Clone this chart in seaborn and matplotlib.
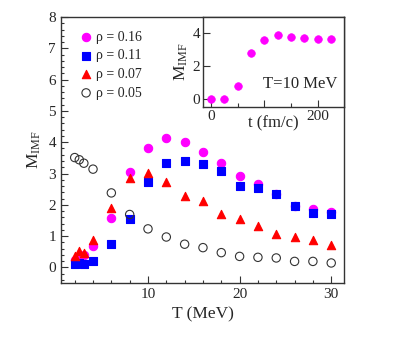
import numpy as np
import pandas as pd
import matplotlib
matplotlib.use("Agg")
import matplotlib.pyplot as plt
import seaborn as sns
from matplotlib.ticker import MultipleLocator

# data
T = [2, 2.5, 3, 4, 6, 8, 10, 12, 14, 16, 18, 20, 22, 24, 26, 28, 30]
m_016 = [0.25, 0.34, 0.40, 0.68, 1.58, 3.05, 3.81, 4.13, 4.00, 3.68, 3.35, 2.91, 2.66, 2.33, 1.97, 1.87, 1.76]
m_011 = [0.10, 0.13, 0.10, 0.20, 0.74, 1.55, 2.72, 3.35, 3.41, 3.31, 3.07, 2.61, 2.54, 2.35, 1.97, 1.75, 1.71]
m_007 = [0.36, 0.53, 0.47, 0.88, 1.90, 2.86, 3.01, 2.73, 2.29, 2.11, 1.69, 1.53, 1.32, 1.08, 0.96, 0.89, 0.73]
m_005 = [3.51, 3.44, 3.33, 3.14, 2.38, 1.69, 1.23, 0.97, 0.74, 0.63, 0.47, 0.35, 0.32, 0.30, 0.19, 0.19, 0.14]
labels = ["ρ = 0.16", "ρ = 0.11", "ρ = 0.07", "ρ = 0.05"]

t_inset = [0, 25, 50, 75, 100, 125, 150, 175, 200, 225]
m_inset = [0.0, 0.0, 0.80, 2.81, 3.63, 3.90, 3.81, 3.73, 3.65, 3.65]

sns.set_style("ticks")
plt.rcParams['font.family'] = ['Liberation Serif', 'DejaVu Serif']
plt.rcParams['mathtext.fontset'] = 'custom'
plt.rcParams['mathtext.rm'] = 'Liberation Serif'
plt.rcParams['mathtext.it'] = 'Liberation Serif:italic'
plt.rcParams['axes.edgecolor'] = '#333333'
plt.rcParams['axes.linewidth'] = 1.0

fig = plt.figure(figsize=(4.01, 3.43), dpi=100)
ax = fig.add_axes([0.152, 0.175, 0.706, 0.775])

styles = [
    dict(marker='o', color='#ff00ff', edgecolor='#ff00ff'),
    dict(marker='s', color='#0000ff', edgecolor='#0000ff'),
    dict(marker='^', color='#ff0000', edgecolor='#ff0000'),
    dict(marker='o', color='none', edgecolor='#333333'),
]
series = [m_016, m_011, m_007, m_005]
for vals, lab, st in zip(series, labels, styles):
    df = pd.DataFrame({"T": T, "M": vals})
    sns.scatterplot(data=df, x="T", y="M", ax=ax, s=36, linewidth=0.8,
                    marker=st['marker'], facecolor=st['color'],
                    edgecolor=st['edgecolor'], label=lab, zorder=3)

ax.set_xlim(0.5, 31.4)
ax.set_ylim(-0.5, 8)
ax.xaxis.set_major_locator(MultipleLocator(10))
ax.xaxis.set_minor_locator(MultipleLocator(2))
ax.yaxis.set_major_locator(MultipleLocator(1))
ax.yaxis.set_minor_locator(MultipleLocator(0.2))
ax.tick_params(which='major', direction='in', length=5, width=0.8, labelsize=11, color='#333333')
ax.tick_params(which='minor', direction='in', length=2.5, width=0.8, color='#333333')
ax.set_xlabel("T (MeV)", fontsize=12.5)
ax.set_ylabel(r"$\mathregular{M_{IMF}}$", fontsize=12.5, labelpad=4)

leg = ax.legend(loc='upper left', bbox_to_anchor=(0.025, 0.985), frameon=False,
                fontsize=10, handletextpad=0.1, labelspacing=0.4,
                borderaxespad=0.3, handlelength=1.2)

# inset
axin = fig.add_axes([0.506, 0.688, 0.352, 0.262])
dfi = pd.DataFrame({"t": t_inset, "M": m_inset})
sns.scatterplot(data=dfi, x="t", y="M", ax=axin, s=30, marker='o',
                color='#ff00ff', edgecolor='#ff00ff', linewidth=0.5, zorder=3)
axin.set_xlim(-15, 249)
axin.set_ylim(-0.5, 5)
axin.set_xticks([0, 100, 200])
axin.set_xticklabels(['0', '', '200'])
axin.xaxis.set_minor_locator(MultipleLocator(50))
axin.set_yticks([0, 2, 4])
axin.tick_params(which='major', direction='in', length=5, width=0.8, labelsize=11, color='#333333', pad=2)
axin.tick_params(which='minor', direction='in', length=3, width=0.8, color='#333333')
axin.set_xlabel("t (fm/c)", fontsize=12, labelpad=-5)
axin.set_ylabel(r"$\mathregular{M_{IMF}}$", fontsize=12.5, labelpad=2)
axin.text(0.95, 0.17, "T=10 MeV", transform=axin.transAxes, ha='right', va='bottom', fontsize=12)

fig.savefig("out.png", dpi=100)
